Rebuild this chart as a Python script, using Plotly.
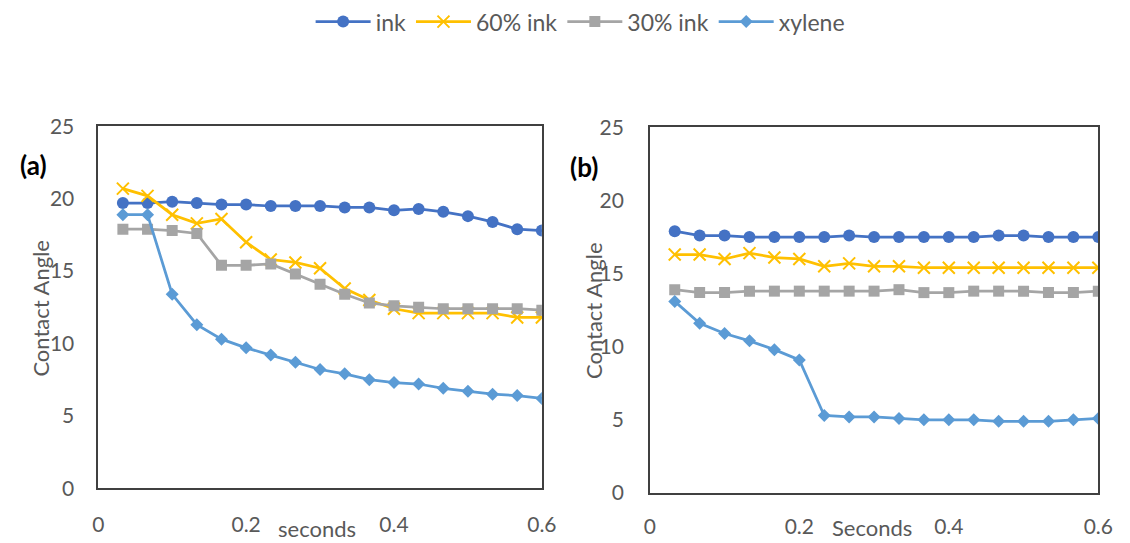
import plotly.graph_objects as go

# time in seconds (1/30 s steps)
seconds = [i / 30 for i in range(1, 19)]

# Panel (a)
a_ink = [19.7, 19.7, 19.8, 19.7, 19.6, 19.6, 19.5, 19.5, 19.5, 19.4, 19.4, 19.2, 19.3, 19.1, 18.8, 18.4, 17.9, 17.8]
a_ink60 = [20.7, 20.2, 18.9, 18.3, 18.6, 17.0, 15.8, 15.6, 15.2, 13.8, 13.0, 12.4, 12.1, 12.1, 12.1, 12.1, 11.8, 11.8]
a_ink30 = [17.9, 17.9, 17.8, 17.6, 15.4, 15.4, 15.5, 14.8, 14.1, 13.4, 12.8, 12.6, 12.5, 12.4, 12.4, 12.4, 12.4, 12.3]
a_xylene = [18.9, 18.9, 13.4, 11.3, 10.3, 9.7, 9.2, 8.7, 8.2, 7.9, 7.5, 7.3, 7.2, 6.9, 6.7, 6.5, 6.4, 6.2]

# Panel (b)
b_ink = [17.9, 17.6, 17.6, 17.5, 17.5, 17.5, 17.5, 17.6, 17.5, 17.5, 17.5, 17.5, 17.5, 17.6, 17.6, 17.5, 17.5, 17.5]
b_ink60 = [16.3, 16.3, 16.0, 16.4, 16.1, 16.0, 15.5, 15.7, 15.5, 15.5, 15.4, 15.4, 15.4, 15.4, 15.4, 15.4, 15.4, 15.4]
b_ink30 = [13.9, 13.7, 13.7, 13.8, 13.8, 13.8, 13.8, 13.8, 13.8, 13.9, 13.7, 13.7, 13.8, 13.8, 13.8, 13.7, 13.7, 13.8]
b_xylene = [13.1, 11.6, 10.9, 10.4, 9.8, 9.1, 5.3, 5.2, 5.2, 5.1, 5.0, 5.0, 5.0, 4.9, 4.9, 4.9, 5.0, 5.1]

series_names = ["ink", "60% ink", "30% ink", "xylene"]
x_ticks = [0, 0.2, 0.4, 0.6]
x_ticklabels = ["0", "0.2", "0.4", "0.6"]
y_ticks = [0, 5, 10, 15, 20, 25]

W, H = 1130, 543
FONT = "Lato"
GRAY = "#595959"

styles = [
    dict(color="#4472C4", symbol="circle", size=12, lw=2.75),
    dict(color="#FFC000", symbol="x-thin", size=12, lw=2.75),
    dict(color="#A5A5A5", symbol="square", size=11, lw=2.75),
    dict(color="#5B9BD5", symbol="diamond", size=10, lw=2.75),
]

fig = go.Figure()
panels = [(("x", "y"), [a_ink, a_ink60, a_ink30, a_xylene], True),
          (("x2", "y2"), [b_ink, b_ink60, b_ink30, b_xylene], False)]
for (xa, ya), data, show in panels:
    for name, vals, st in zip(series_names, data, styles):
        marker = dict(color=st["color"], symbol=st["symbol"], size=st["size"])
        if st["symbol"] == "x-thin":
            marker["line"] = dict(color=st["color"], width=2)
        fig.add_trace(go.Scatter(
            x=seconds, y=vals, name=name, mode="lines+markers",
            line=dict(color=st["color"], width=st["lw"]),
            marker=marker, xaxis=xa, yaxis=ya, showlegend=show,
        ))

def px(x):
    return x / W

def py(y):
    return 1 - y / H

axis_common = dict(showgrid=False, zeroline=False, showline=True, mirror=True,
                   linecolor="#404040", linewidth=1.5, ticks="",
                   tickfont=dict(family=FONT, size=21, color=GRAY))

def ann(text, x, y, size, color=GRAY, angle=0):
    return dict(text=text, x=px(x), y=py(y), xref="paper", yref="paper",
                xanchor="center", yanchor="middle", showarrow=False, textangle=angle,
                font=dict(family=FONT, size=size, color=color))

fig.update_layout(
    width=W, height=H, autosize=False,
    margin=dict(l=0, r=0, t=0, b=0),
    paper_bgcolor="white", plot_bgcolor="white",
    font=dict(family=FONT, color=GRAY),
    xaxis=dict(domain=[px(94), px(546)], range=[0, 0.6], tickvals=x_ticks, ticktext=x_ticklabels,
               anchor="y", ticklabelstandoff=17, **axis_common),
    yaxis=dict(domain=[py(497), py(117)], range=[0, 25], tickvals=y_ticks,
               anchor="x", ticklabelstandoff=18, **axis_common),
    xaxis2=dict(domain=[px(656), px(1113)], range=[0, 0.6], tickvals=x_ticks, ticktext=x_ticklabels,
                anchor="y2", ticklabelstandoff=14, **axis_common),
    yaxis2=dict(domain=[py(502), py(118)], range=[0, 25], tickvals=y_ticks,
                anchor="x2", ticklabelstandoff=20, **axis_common),
    legend=dict(orientation="h", x=px(585), xanchor="center", y=py(7), yanchor="middle",
                font=dict(family=FONT, size=23, color=GRAY), itemwidth=55,
                bgcolor="rgba(0,0,0,0)", traceorder="normal"),
    annotations=[
        ann("<b>(a)</b>", 28, 158, 26, "black"),
        ann("<b>(b)</b>", 589, 160, 26, "black"),
        ann("Contact Angle", 35, 308, 22, angle=-90),
        ann("Contact Angle", 598, 310, 22, angle=-90),
        ann("seconds", 317, 539, 22),
        ann("Seconds", 882, 538, 22),
    ],
)

fig.write_html("out.html")
